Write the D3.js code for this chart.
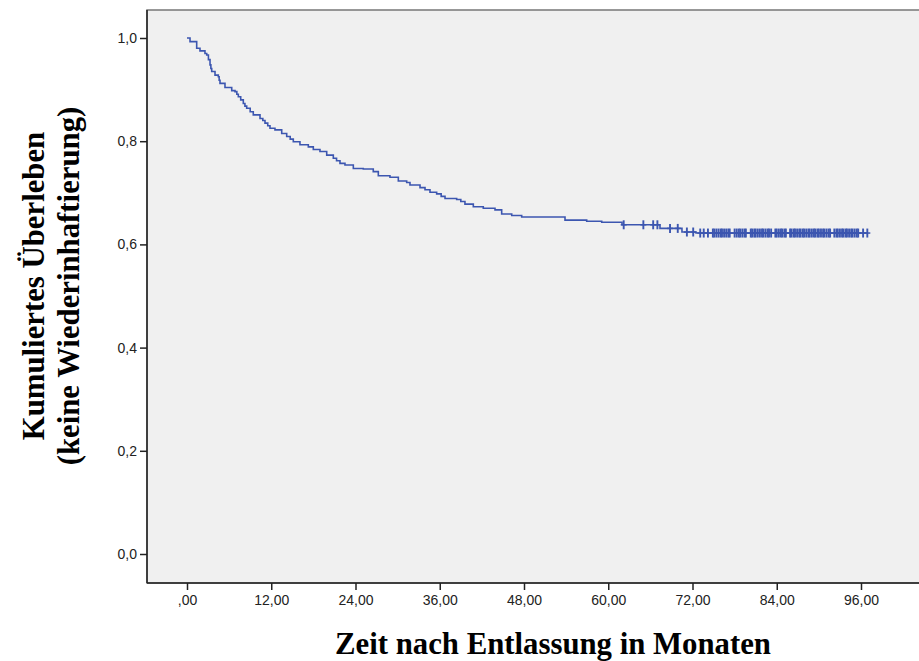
<!DOCTYPE html>
<html lang="de">
<head>
    <meta charset="UTF-8">
    <title>Kumuliertes Überleben</title>
    <script src="https://d3js.org/d3.v7.min.js"></script>
    <style>
        body { margin: 0; background: #fff; }
        .title { font-family: "Liberation Serif", "Times New Roman", serif; font-weight: bold; fill: #000; }
    </style>
</head>
<body>
    <svg id="chart" width="919" height="661"></svg>

    <script>
        // Kaplan-Meier Stufen: Zeit (Monate) und kumuliertes Überleben
        const eventTimes = [0, 0.43, 1.38, 1.85, 2.56, 2.81, 3.05, 3.28, 3.40, 3.52, 3.99, 4.46, 4.58, 4.70,
            5.41, 6.37, 6.84, 7.10, 7.31, 7.65, 8.02, 8.25, 8.50, 9.00, 9.44, 10.40, 10.80, 11.11, 11.50,
            11.82, 12.53, 13.49, 14.20, 14.70, 15.14, 16.09, 17.28, 17.99, 18.94, 19.90, 20.84, 21.30,
            21.79, 22.50, 23.69, 25.11, 26.53, 27.25, 28.91, 30.10, 31.29, 31.76, 33.19, 33.90, 34.61,
            35.56, 36.20, 36.75, 38.41, 39.00, 39.59, 40.78, 42.20, 43.87, 44.82, 46.25, 47.67, 53.84,
            56.93, 59.07, 61.96, 67.37, 70.50, 72.50];
        const survival = [1.000, 0.993, 0.980, 0.975, 0.970, 0.967, 0.958, 0.948, 0.941, 0.935, 0.928, 0.925, 0.918, 0.912,
            0.904, 0.898, 0.896, 0.891, 0.886, 0.880, 0.873, 0.868, 0.864, 0.857, 0.851, 0.844, 0.840, 0.835, 0.830,
            0.825, 0.822, 0.815, 0.809, 0.804, 0.799, 0.793, 0.789, 0.784, 0.780, 0.773, 0.767, 0.762,
            0.757, 0.754, 0.747, 0.746, 0.741, 0.733, 0.730, 0.723, 0.720, 0.715, 0.710, 0.706, 0.701,
            0.698, 0.693, 0.689, 0.687, 0.683, 0.678, 0.673, 0.670, 0.667, 0.659, 0.656, 0.653, 0.647,
            0.645, 0.643, 0.638, 0.631, 0.624, 0.622];

        // zensierte Fälle
        const censorTimes = [62.2, 65.0, 66.4, 67.0, 68.8, 69.9, 71.2, 72.1, 73.1, 73.6, 74.2,
            74.9, 75.1, 75.4, 75.7, 76.0, 76.2, 76.5, 76.8, 77.1, 77.3,
            78.0, 78.3, 78.6, 78.8, 79.1, 79.4, 79.6,
            80.3, 80.5, 80.8, 81.0, 81.3, 81.6, 81.9, 82.1, 82.4, 82.7, 82.9, 83.2,
            83.8, 84.0, 84.3, 84.6, 84.8, 85.1, 85.3,
            85.9, 86.1, 86.4, 86.6, 86.9, 87.2, 87.4, 87.7, 87.9, 88.2, 88.5, 88.7, 89.0, 89.3, 89.5,
            89.8, 90.0, 90.3, 90.6, 90.8, 91.1, 91.4, 91.6,
            92.2, 92.5, 92.7, 93.0, 93.3, 93.5, 93.8, 94.0, 94.3, 94.6, 94.8, 95.1, 95.4, 95.6,
            96.3, 96.9];

        const xTicks = [0, 12, 24, 36, 48, 60, 72, 84, 96];
        const yTicks = [0, 0.2, 0.4, 0.6, 0.8, 1.0];

        const svg = d3.select("#chart");
        const frame = { left: 147, top: 10, right: 940, bottom: 583 };

        // Skalen
        const x = d3.scaleLinear().domain([0, 96]).range([187, 861]);
        const y = d3.scaleLinear().domain([0, 1]).range([554, 38]);

        // Hintergrund
        svg.append("rect")
            .attr("x", frame.left).attr("y", frame.top)
            .attr("width", frame.right - frame.left).attr("height", frame.bottom - frame.top)
            .attr("fill", "#f0f0f0")
            .attr("stroke", "#777").attr("stroke-width", 1.5);

        // Achsen
        const fmtX = d => d === 0 ? ",00" : d.toFixed(2).replace(".", ",");
        const fmtY = d => d.toFixed(1).replace(".", ",");

        const gx = svg.append("g")
            .attr("transform", `translate(0,${frame.bottom})`)
            .call(d3.axisBottom(x).tickValues(xTicks).tickFormat(fmtX).tickSize(7).tickPadding(5));
        gx.select(".domain").remove();

        const gy = svg.append("g")
            .attr("transform", `translate(${frame.left},0)`)
            .call(d3.axisLeft(y).tickValues(yTicks).tickFormat(fmtY).tickSize(7).tickPadding(3));
        gy.select(".domain").remove();
        svg.selectAll(".tick line").attr("stroke", "#222").attr("stroke-width", 1.5);
        svg.selectAll(".tick text")
            .style("font-family", "'Liberation Sans', Arial, sans-serif")
            .style("font-size", "14px")
            .style("fill", "#222");

        svg.append("line")
            .attr("x1", frame.left).attr("x2", frame.right)
            .attr("y1", frame.bottom).attr("y2", frame.bottom)
            .attr("stroke", "#222").attr("stroke-width", 1.5);
        svg.append("line")
            .attr("x1", frame.left).attr("x2", frame.left)
            .attr("y1", frame.top).attr("y2", frame.bottom)
            .attr("stroke", "#222").attr("stroke-width", 1.5);

        // Überlebenskurve
        const steps = eventTimes.map((t, i) => [t, survival[i]]);
        const lastT = d3.max(censorTimes);
        steps.push([lastT, survival[survival.length - 1]]);

        const color = "#3c56b0";
        svg.append("path")
            .datum(steps)
            .attr("fill", "none")
            .attr("stroke", color)
            .attr("stroke-width", 1.6)
            .attr("d", d3.line().x(d => x(d[0])).y(d => y(d[1])).curve(d3.curveStepAfter));

        // Zensierungsmarken
        const bis = d3.bisector(d => d).right;
        const survAt = t => survival[Math.max(0, bis(eventTimes, t) - 1)];
        const marks = svg.append("g").attr("stroke", color);
        censorTimes.forEach(t => {
            const cx = x(t), cy = y(survAt(t));
            marks.append("line").attr("stroke-width", 1.9)
                .attr("x1", cx).attr("x2", cx).attr("y1", cy - 4.5).attr("y2", cy + 4.5);
            marks.append("line").attr("stroke-width", 1.5)
                .attr("x1", cx - 3).attr("x2", cx + 3).attr("y1", cy).attr("y2", cy);
        });

        // Titel
        const xTitle = svg.append("text")
            .attr("class", "title")
            .attr("text-anchor", "middle")
            .attr("x", 553).attr("y", 654)
            .style("font-size", "28px")
            .text("Zeit nach Entlassung in Monaten");
        const scale = 436 / xTitle.node().getComputedTextLength();
        const fs = 28 * scale;
        xTitle.style("font-size", fs + "px");

        const yTitle = svg.append("text")
            .attr("class", "title")
            .attr("text-anchor", "middle")
            .attr("transform", "translate(0,286) rotate(-90)")
            .style("font-size", fs + "px");
        yTitle.append("tspan").attr("x", 0).attr("y", 44).text("Kumuliertes Überleben");
        yTitle.append("tspan").attr("x", 0).attr("y", 79).text("(keine Wiederinhaftierung)");
    </script>
</body>
</html>
